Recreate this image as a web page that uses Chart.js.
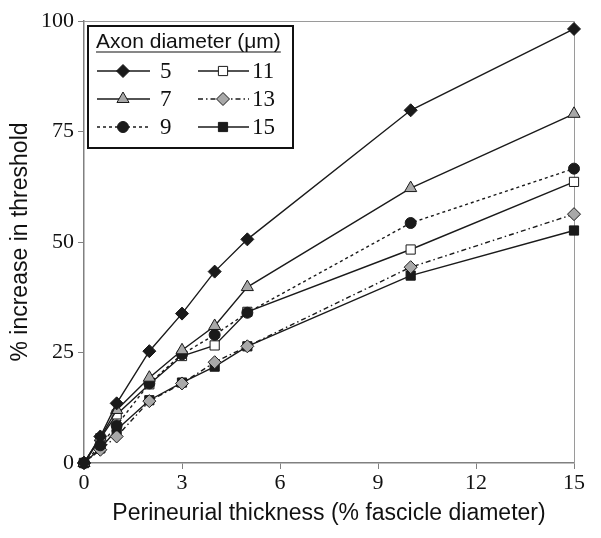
<!DOCTYPE html>
<html>
<head>
<meta charset="utf-8">
<script src="https://cdn.jsdelivr.net/npm/chart.js@4/dist/chart.umd.min.js"></script>
<style>
  body { margin: 0; background: #fff; }
  #wrap { width: 601px; height: 538px; }
</style>
</head>
<body>
<div id="wrap"><canvas id="chart" width="601" height="538"></canvas></div>
<script>
// Perineurial thickness (% fascicle diameter)
const thickness = [0, 0.5, 1, 2, 3, 4, 5, 10, 15];

// % increase in threshold, one array per axon diameter (um)
const d5  = [0, 6.0, 13.5, 25.3, 33.8, 43.3, 50.6, 79.8, 98.2];
const d7  = [0, 5.8, 12.0, 19.3, 25.5, 31.0, 39.8, 62.2, 79.0];
const d9  = [0, 4.0, 8.5, 18.0, 24.6, 29.0, 34.0, 54.3, 66.6];
const d11 = [0, 5.6, 11.0, 17.8, 24.2, 26.6, 34.2, 48.3, 63.6];
const d13 = [0, 3.0, 6.0, 14.0, 18.0, 22.8, 26.4, 44.3, 56.3];
const d15 = [0, 3.3, 7.5, 14.2, 18.2, 21.8, 26.4, 42.4, 52.6];

const xTicks = [0, 3, 6, 9, 12, 15];
const yTicks = [0, 25, 50, 75, 100];

const LINE = "#1a1a1a";
const GRAY = "#a8a8a8";
const SERIF = "'Liberation Serif', 'Times New Roman', serif";
const SANS = "'Liberation Sans', Arial, sans-serif";

function toPoints(values) {
    return thickness.map((x, i) => ({ x: x, y: values[i] }));
}

// one entry per series: label, values, marker and line look
const seriesDefs = [
    { label: "5",  data: d5,  style: "rectRot",  radius: 6.5, fill: LINE,   dash: [] },
    { label: "7",  data: d7,  style: "triangle", radius: 7,   fill: GRAY,   dash: [] },
    { label: "9",  data: d9,  style: "circle",   radius: 5.5, fill: LINE,   dash: [3, 3] },
    { label: "11", data: d11, style: "rect",     radius: 6.5, fill: "#fff", dash: [] },
    { label: "13", data: d13, style: "rectRot",  radius: 6.5, fill: GRAY,   dash: [5, 3, 1.5, 3] },
    { label: "15", data: d15, style: "rect",     radius: 6.5, fill: LINE,   dash: [] }
];

const datasets = seriesDefs.map(s => ({
    label: s.label,
    data: toPoints(s.data),
    borderColor: LINE,
    borderWidth: 1.4,
    borderDash: s.dash,
    backgroundColor: s.fill,
    pointStyle: s.style,
    pointRadius: s.radius,
    pointBackgroundColor: s.fill,
    pointBorderColor: LINE,
    pointBorderWidth: 1,
    tension: 0,
    clip: false
}));

// grey frame on top and right of the plot
const framePlugin = {
    id: "frame",
    beforeDatasetsDraw(chart) {
        const { ctx, chartArea: a } = chart;
        ctx.save();
        ctx.strokeStyle = "#9a9a9a";
        ctx.lineWidth = 1;
        ctx.beginPath();
        ctx.moveTo(a.left, a.top + 0.5);
        ctx.lineTo(a.right + 0.5, a.top + 0.5);
        ctx.lineTo(a.right + 0.5, a.bottom);
        ctx.stroke();
        ctx.restore();
    }
};

// boxed legend with underlined title, two columns
const legendPlugin = {
    id: "boxLegend",
    afterDraw(chart) {
        const ctx = chart.ctx;
        const box = { x: 88, y: 26, w: 205, h: 122 };
        ctx.save();
        ctx.fillStyle = "#fff";
        ctx.fillRect(box.x, box.y, box.w, box.h);
        ctx.strokeStyle = "#111";
        ctx.lineWidth = 2;
        ctx.strokeRect(box.x, box.y, box.w, box.h);

        ctx.fillStyle = "#111";
        ctx.font = "21px " + SANS;
        ctx.textBaseline = "alphabetic";
        ctx.textAlign = "left";
        const title = "Axon diameter (\u03bcm)";
        ctx.fillText(title, 96, 48);
        const tw = ctx.measureText(title).width;
        ctx.lineWidth = 1.2;
        ctx.beginPath();
        ctx.moveTo(96, 52);
        ctx.lineTo(96 + tw, 52);
        ctx.stroke();

        const rows = [71, 99, 127];
        const cols = [
            { x0: 97, x1: 150, mx: 123, tx: 160 },
            { x0: 198, x1: 249, mx: 223, tx: 252 }
        ];
        chart.data.datasets.forEach((ds, i) => {
            const col = cols[Math.floor(i / 3)];
            const y = rows[i % 3];
            ctx.strokeStyle = LINE;
            ctx.lineWidth = 1.4;
            ctx.setLineDash(ds.borderDash || []);
            ctx.beginPath();
            ctx.moveTo(col.x0, y);
            ctx.lineTo(col.x1, y);
            ctx.stroke();
            ctx.setLineDash([]);
            ctx.fillStyle = ds.pointBackgroundColor;
            ctx.strokeStyle = ds.pointBorderColor;
            ctx.lineWidth = 1;
            Chart.helpers.drawPoint(ctx, {
                pointStyle: ds.pointStyle,
                radius: ds.pointRadius,
                borderWidth: 1,
                rotation: 0
            }, col.mx, y);
            ctx.fillStyle = "#111";
            ctx.font = "23px " + SERIF;
            ctx.textBaseline = "middle";
            ctx.fillText(ds.label, col.tx, y + 1);
        });
        ctx.restore();
    }
};

const ctx = document.getElementById("chart").getContext("2d");
new Chart(ctx, {
    type: "line",
    data: { datasets: datasets },
    options: {
        responsive: false,
        animation: false,
        layout: { padding: { top: 21, right: 27, left: 3, bottom: 7 } },
        plugins: { legend: { display: false }, tooltip: { enabled: false } },
        scales: {
            x: {
                type: "linear",
                min: 0,
                max: 15,
                afterBuildTicks: axis => { axis.ticks = xTicks.map(v => ({ value: v })); },
                afterFit: axis => { axis.height = 68; },
                ticks: { color: "#111", font: { family: SERIF, size: 22 }, padding: 1, maxRotation: 0 },
                grid: { drawOnChartArea: false, tickLength: 6, color: "#808080" },
                border: { color: "#808080", width: 1.5 },
                title: {
                    display: true,
                    text: "Perineurial thickness (% fascicle diameter)",
                    color: "#111",
                    font: { family: SANS, size: 23 }
                }
            },
            y: {
                type: "linear",
                min: 0,
                max: 100,
                afterBuildTicks: axis => { axis.ticks = yTicks.map(v => ({ value: v })); },
                afterFit: axis => { axis.width = 81; },
                ticks: { color: "#111", font: { family: SERIF, size: 22 }, padding: 4 },
                grid: { drawOnChartArea: false, tickLength: 6, color: "#808080" },
                border: { color: "#808080", width: 1.5 },
                title: {
                    display: true,
                    text: "% increase in threshold",
                    color: "#111",
                    font: { family: SANS, size: 23 }
                }
            }
        }
    },
    plugins: [framePlugin, legendPlugin]
});
</script>
</body>
</html>
